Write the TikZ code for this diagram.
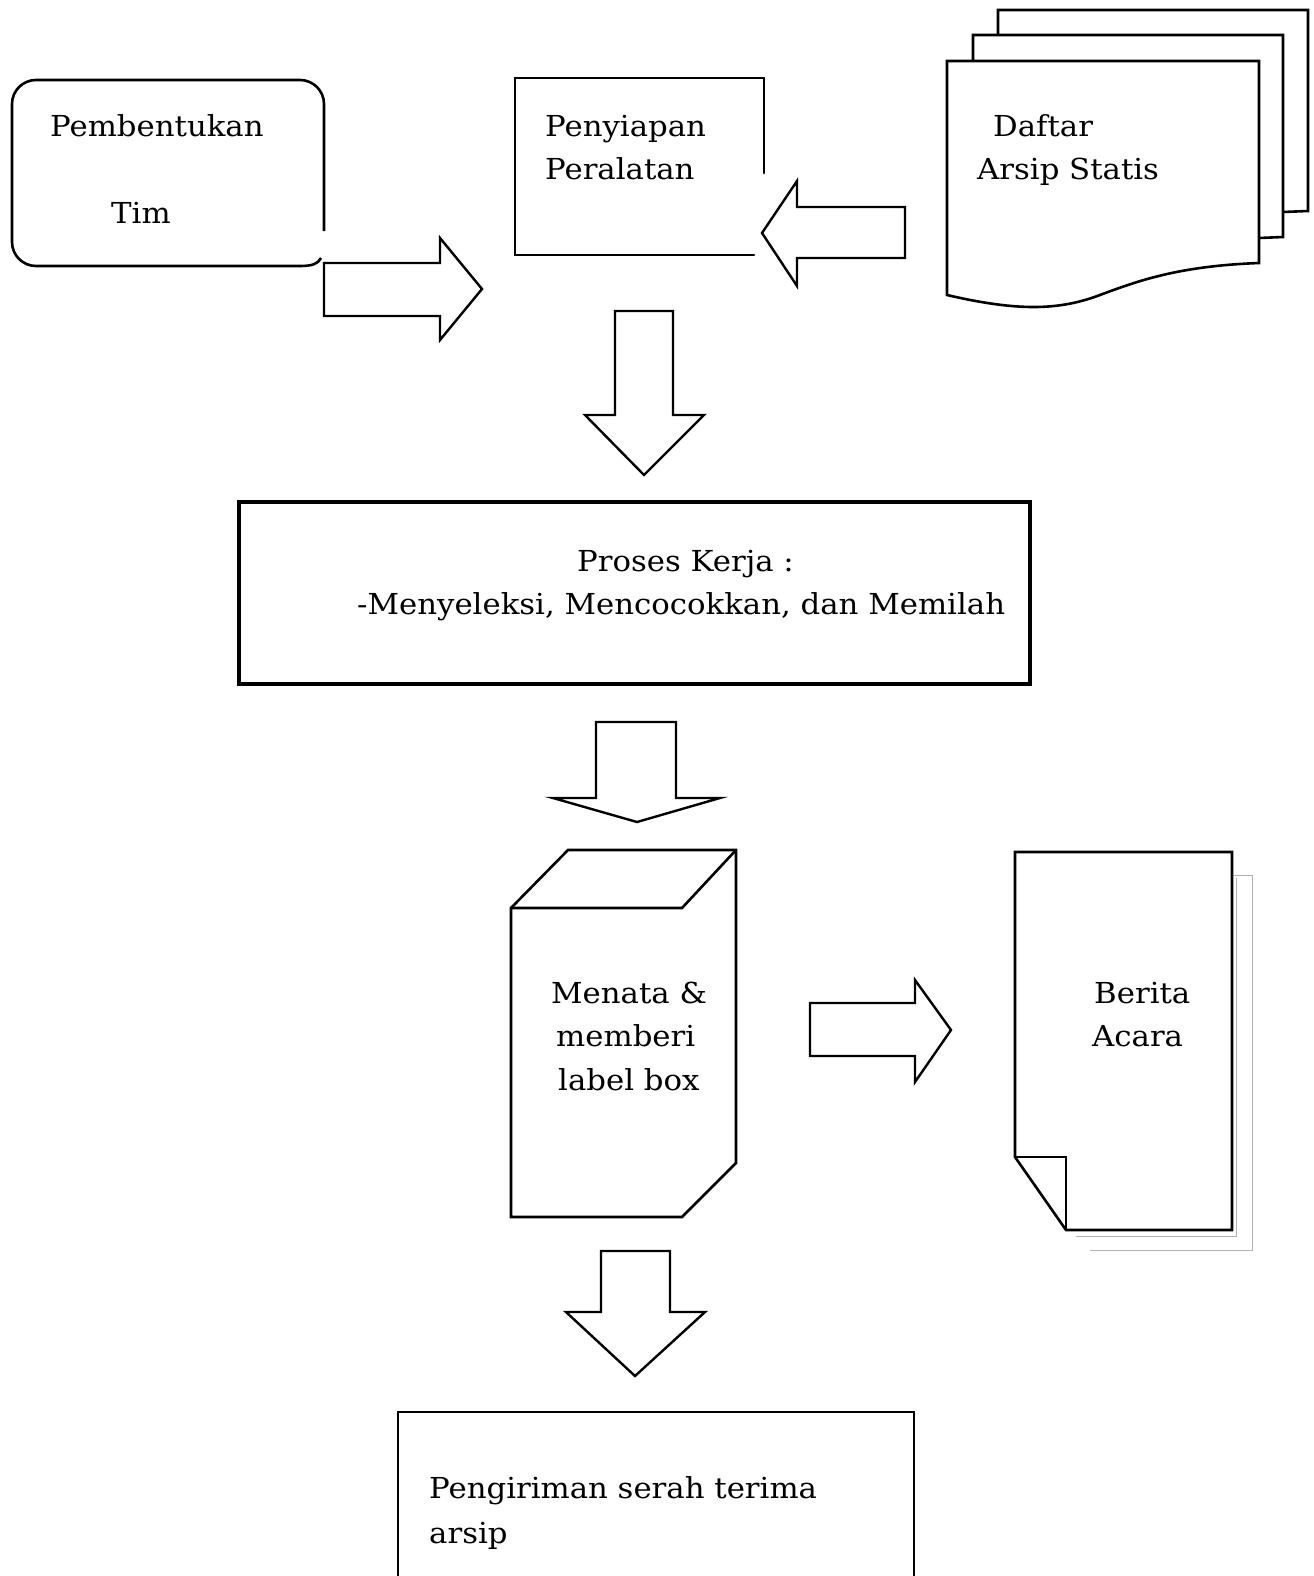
\documentclass[tikz,border=0pt]{standalone}
\usepackage{fontspec}
\setmainfont[FakeStretch=1.065]{DejaVu Serif}
\begin{document}
\begin{tikzpicture}[x=1bp,y=-1bp,line join=miter,
  outline/.style={draw=black,line width=2.6bp},
  heavy/.style={draw=black,line width=3.2bp},
  blockarrow/.style={draw=black,line width=2.4bp,fill=white},
  lbl/.style={anchor=base west,inner sep=0pt,font=\fontsize{29}{34}\selectfont},
  sheet/.style={draw=gray!60,line width=0.9bp}]
\useasboundingbox (0,0) rectangle (1314,1576);

% Pembentukan Tim: rounded box, right side left open near the arrow
\draw[outline,rounded corners=24bp] (324,231) -- (324,80) -- (12,80) -- (12,266) -- (300,266);
\draw[outline] (300,266) .. controls (312,266) and (318,264) .. (321,258);
\node[lbl] (pemb) at (50,137) {Pembentukan};
\node[lbl] (tim) at (111,223) {Tim};

% arrow into Penyiapan Peralatan
\draw[blockarrow] (324,263) -- (440,263) -- (440,238) -- (482,289) -- (440,340) -- (440,316) -- (324,316) -- cycle;

% Penyiapan Peralatan: open frame
\draw[outline,line cap=round] (764,173) -- (764,78) -- (515,78) -- (515,255) -- (754,255);
\node[lbl] (peny) at (545,137) {Penyiapan};
\node[lbl] (peral) at (545,179) {Peralatan};

% arrow from the document stack
\draw[blockarrow] (905,207) -- (797,207) -- (797,181) -- (762,233) -- (797,286) -- (797,258) -- (905,258) -- cycle;

% Daftar Arsip Statis: stack of documents
\draw[outline] (998,35) -- (998,10) -- (1308,10) -- (1308,211) -- (1283,212);
\draw[outline] (973,61) -- (973,35) -- (1283,35) -- (1283,237) -- (1259,238);
\draw[outline] (947,61) -- (1259,61) -- (1259,263)
  .. controls (1180,266) and (1140,280) .. (1100,295)
  .. controls (1060,310) and (1020,312) .. (947,295) -- cycle;
\node[lbl] (daftar) at (993,137) {Daftar};
\node[lbl] (arsip) at (977,179) {Arsip Statis};

% down arrow to Proses Kerja
\draw[blockarrow] (615,311) -- (673,311) -- (673,415) -- (704,415) -- (644,475) -- (585,415) -- (615,415) -- cycle;

% Proses Kerja
\draw[heavy] (239,502) rectangle (1030,684);
\node[lbl] (proses) at (577,571) {Proses Kerja :};
\node[lbl] (seleksi) at (357,614) {-Menyeleksi, Mencocokkan, dan Memilah};

% down arrow to the box
\draw[blockarrow] (596,722) -- (676,722) -- (676,798) -- (720,798) -- (637,822) -- (553,798) -- (596,798) -- cycle;

% Menata & memberi label box: box drawn in perspective
\draw[outline] (511,908) -- (568,850) -- (736,850) -- (736,1163) -- (682,1217) -- (511,1217) -- cycle;
\draw[outline] (511,908) -- (682,908) -- (736,850);
\node[lbl] (menata) at (551,1003) {Menata \&};
\node[lbl] (memberi) at (556,1046) {memberi};
\node[lbl] (labelbox) at (558,1090) {label box};

% arrow to Berita Acara
\draw[blockarrow] (810,1003) -- (915,1003) -- (915,980) -- (951,1030) -- (915,1082) -- (915,1056) -- (810,1056) -- cycle;

% Berita Acara: page with folded corner and sheets behind
\draw[sheet] (1232,875) -- (1252,875) -- (1252,1250) -- (1090,1250);
\draw[sheet] (1236,878) -- (1236,1236) -- (1076,1236);
\draw[outline] (1015,852) -- (1232,852) -- (1232,1230) -- (1066,1230) -- (1015,1157) -- cycle;
\draw[outline] (1015,1157) -- (1066,1157) -- (1066,1230);
\node[lbl] (berita) at (1094,1003) {Berita};
\node[lbl] (acara) at (1092,1046) {Acara};

% down arrow to Pengiriman
\draw[blockarrow] (601,1251) -- (670,1251) -- (670,1312) -- (705,1312) -- (635,1376) -- (566,1312) -- (601,1312) -- cycle;

% Pengiriman serah terima arsip
\draw[outline] (398,1576) -- (398,1412) -- (914,1412) -- (914,1576);
\node[lbl] (kirim) at (429,1498) {Pengiriman serah terima};
\node[lbl] (arsip2) at (429,1543) {arsip};
\end{tikzpicture}
\end{document}
